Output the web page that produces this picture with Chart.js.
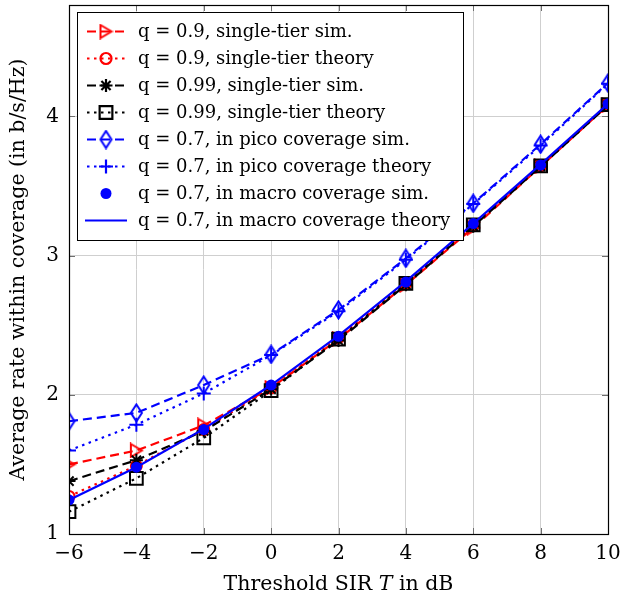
<!DOCTYPE html>
<html>
<head>
<meta charset="utf-8">
<script src="https://cdn.jsdelivr.net/npm/chart.js"></script>
<style>
  html, body { margin: 0; padding: 0; background: #fff; }
  #wrap { width: 622px; height: 601px; }
</style>
</head>
<body>
<div id="wrap"><canvas id="chart" width="622" height="601"></canvas></div>
<script>
// threshold SIR in dB
const thresholdDb = [-6, -4, -2, 0, 2, 4, 6, 8, 10];

// average rate within coverage (b/s/Hz)
const q09Sim      = [1.50, 1.60, 1.78, 2.05, 2.40, 2.79, 3.20, 3.64, 4.08];
const q09Theory   = [1.27, 1.49, 1.75, 2.05, 2.41, 2.80, 3.22, 3.645, 4.085];
const q099Sim     = [1.38, 1.53, 1.74, 2.04, 2.39, 2.79, 3.21, 3.64, 4.08];
const q099Theory  = [1.16, 1.40, 1.69, 2.03, 2.40, 2.80, 3.22, 3.645, 4.085];
const picoSim     = [1.81, 1.87, 2.07, 2.29, 2.61, 2.98, 3.375, 3.80, 4.24];
const picoTheory  = [1.60, 1.785, 2.01, 2.285, 2.60, 2.97, 3.37, 3.79, 4.235];
const macroSim    = [1.245, 1.48, 1.75, 2.07, 2.42, 2.81, 3.23, 3.65, 4.09];
const macroTheory = [1.245, 1.48, 1.755, 2.07, 2.425, 2.815, 3.23, 3.655, 4.09];

const yTicks = [1, 2, 3, 4];

const RED = '#ff0000';
const BLUE = '#0000ff';
const BLACK = '#000000';
const DASHED = [9, 5];
const DOTTED = [2.5, 4.5];
const SERIF = '"DejaVu Serif", "Liberation Serif", serif';

// open marks that chart.js doesn't have in the right shape
function triangleMark(color) {
  const c = document.createElement('canvas');
  c.width = 15; c.height = 16;
  const g = c.getContext('2d');
  g.strokeStyle = color; g.lineWidth = 2;
  g.beginPath();
  g.moveTo(2, 1.5); g.lineTo(13, 8); g.lineTo(2, 14.5); g.closePath();
  g.stroke();
  return c;
}
function diamondMark(color) {
  const c = document.createElement('canvas');
  c.width = 15; c.height = 20;
  const g = c.getContext('2d');
  g.strokeStyle = color; g.lineWidth = 2;
  g.beginPath();
  g.moveTo(7.5, 1.5); g.lineTo(13, 10); g.lineTo(7.5, 18.5); g.lineTo(2, 10); g.closePath();
  g.stroke();
  return c;
}

const toXY = (arr) => arr.map((v, i) => ({ x: thresholdDb[i], y: v }));

const series = [
  { label: 'q = 0.9, single-tier sim.', data: q09Sim, color: RED, dash: DASHED, line: true,
    pointStyle: triangleMark(RED), radius: 7 },
  { label: 'q = 0.9, single-tier theory', data: q09Theory, color: RED, dash: DOTTED, line: true,
    pointStyle: 'circle', radius: 5.5 },
  { label: 'q = 0.99, single-tier sim.', data: q099Sim, color: BLACK, dash: DASHED, line: true,
    pointStyle: 'star', radius: 6.5 },
  { label: 'q = 0.99, single-tier theory', data: q099Theory, color: BLACK, dash: DOTTED, line: true,
    pointStyle: 'rect', radius: 9 },
  { label: 'q = 0.7, in pico coverage sim.', data: picoSim, color: BLUE, dash: DASHED, line: true,
    pointStyle: diamondMark(BLUE), radius: 8 },
  { label: 'q = 0.7, in pico coverage theory', data: picoTheory, color: BLUE, dash: DOTTED, line: true,
    pointStyle: 'cross', radius: 7 },
  { label: 'q = 0.7, in macro coverage sim.', data: macroSim, color: BLUE, dash: [], line: false,
    pointStyle: 'circle', radius: 5.5, filled: true },
  { label: 'q = 0.7, in macro coverage theory', data: macroTheory, color: BLUE, dash: [], line: true,
    pointStyle: false, radius: 0 },
];

const datasets = series.map((s, i) => ({
  label: s.label,
  data: toXY(s.data),
  borderColor: s.color,
  backgroundColor: s.filled ? s.color : 'rgba(0,0,0,0)',
  borderWidth: 2.2,
  borderDash: s.dash,
  borderCapStyle: 'butt',
  showLine: s.line,
  tension: 0,
  pointStyle: s.pointStyle,
  pointRadius: s.radius,
  pointHoverRadius: s.radius,
  pointBorderWidth: s.filled ? 0 : 2,
  pointBorderColor: s.color,
  pointBackgroundColor: s.filled ? s.color : 'rgba(0,0,0,0)',
  order: series.length - i,   // later series on top, like pgfplots
}));

const minus = (v) => (v < 0 ? '\u2212' + Math.abs(v) : String(v));

// frame, inward ticks, axis titles and the boxed legend
const decorations = {
  id: 'decorations',
  afterDraw(chart) {
    const { ctx, chartArea: a, scales } = chart;
    ctx.save();

    // inward tick marks
    ctx.strokeStyle = '#6e6e6e';
    ctx.lineWidth = 1;
    ctx.setLineDash([]);
    scales.x.ticks.forEach((t) => {
      const px = Math.round(scales.x.getPixelForValue(t.value)) + 0.5;
      ctx.beginPath();
      ctx.moveTo(px, a.bottom); ctx.lineTo(px, a.bottom - 6);
      ctx.moveTo(px, a.top); ctx.lineTo(px, a.top + 6);
      ctx.stroke();
    });
    scales.y.ticks.forEach((t) => {
      const py = Math.round(scales.y.getPixelForValue(t.value)) + 0.5;
      ctx.beginPath();
      ctx.moveTo(a.left, py); ctx.lineTo(a.left + 6, py);
      ctx.moveTo(a.right, py); ctx.lineTo(a.right - 6, py);
      ctx.stroke();
    });

    // frame
    ctx.strokeStyle = '#000';
    ctx.lineWidth = 1.2;
    ctx.strokeRect(Math.round(a.left) + 0.5, Math.round(a.top) + 0.5,
      Math.round(a.right - a.left), Math.round(a.bottom - a.top));

    // x title with italic T
    ctx.fillStyle = '#000';
    ctx.textBaseline = 'middle';
    const parts = [
      { t: 'Threshold SIR ', f: '20.5px ' + SERIF },
      { t: 'T', f: 'italic 20.5px ' + SERIF },
      { t: ' in dB', f: '20.5px ' + SERIF },
    ];
    let total = 0;
    parts.forEach((p) => { ctx.font = p.f; p.w = ctx.measureText(p.t).width; total += p.w; });
    let tx = (a.left + a.right) / 2 - total / 2;
    ctx.textAlign = 'left';
    parts.forEach((p) => { ctx.font = p.f; ctx.fillText(p.t, tx, 585); tx += p.w; });

    // y title
    ctx.save();
    ctx.translate(19, (a.top + a.bottom) / 2);
    ctx.rotate(-Math.PI / 2);
    ctx.textAlign = 'center';
    ctx.font = '20.5px ' + SERIF;
    ctx.fillText('Average rate within coverage (in b/s/Hz)', 0, 0);
    ctx.restore();

    // legend
    const lx = 77, ly = 12, lw = 386, lh = 228;
    ctx.fillStyle = '#fff';
    ctx.fillRect(lx, ly, lw, lh);
    ctx.strokeStyle = '#000';
    ctx.lineWidth = 1;
    ctx.strokeRect(lx + 0.5, ly + 0.5, lw, lh);
    ctx.font = '18px ' + SERIF;
    ctx.textAlign = 'left';
    ctx.textBaseline = 'middle';
    series.forEach((s, i) => {
      const cy = 31.5 + i * 27.0;
      if (s.line) {
        ctx.strokeStyle = s.color;
        ctx.lineWidth = 2.2;
        ctx.setLineDash(s.dash);
        ctx.lineDashOffset = s.dash.length ? -2 : 0;
        ctx.beginPath();
        ctx.moveTo(85, cy); ctx.lineTo(127, cy);
        ctx.stroke();
      }
      ctx.setLineDash([]);
      if (s.pointStyle) {
        ctx.strokeStyle = s.color;
        ctx.fillStyle = s.filled ? s.color : 'rgba(0,0,0,0)';
        Chart.helpers.drawPoint(ctx, {
          pointStyle: s.pointStyle, radius: s.radius, rotation: 0,
          borderWidth: s.filled ? 0 : 2,
        }, 106, cy);
      }
      ctx.fillStyle = '#000';
      ctx.fillText(s.label, 138, cy + 1);
    });

    ctx.restore();
  },
};

new Chart(document.getElementById('chart'), {
  type: 'line',
  data: { datasets },
  options: {
    responsive: false,
    animation: false,
    layout: { autoPadding: false, padding: { top: 5, right: 14, left: 0, bottom: 0 } },
    plugins: { legend: { display: false }, tooltip: { enabled: false } },
    scales: {
      x: {
        type: 'linear',
        min: -6,
        max: 10,
        afterFit: (scale) => {
          scale.height = 67;
          scale.paddingLeft = 0;
          scale.paddingRight = 0;
        },
        border: { display: false },
        grid: { color: '#cfcfcf', lineWidth: 1, drawTicks: false },
        ticks: {
          stepSize: 2,
          padding: 8,
          color: '#000',
          font: { family: SERIF, size: 20 },
          maxRotation: 0,
          callback: (v) => minus(v),
        },
      },
      y: {
        type: 'linear',
        min: 1,
        max: 4.8,
        afterFit: (scale) => {
          scale.width = 69;
          scale.paddingTop = 0;
          scale.paddingBottom = 0;
        },
        afterBuildTicks: (scale) => { scale.ticks = yTicks.map((v) => ({ value: v })); },
        border: { display: false },
        grid: { color: '#cfcfcf', lineWidth: 1, drawTicks: false },
        ticks: {
          padding: 10,
          color: '#000',
          font: { family: SERIF, size: 20 },
          callback: (v) => minus(v),
        },
      },
    },
  },
  plugins: [decorations],
});
</script>
</body>
</html>
